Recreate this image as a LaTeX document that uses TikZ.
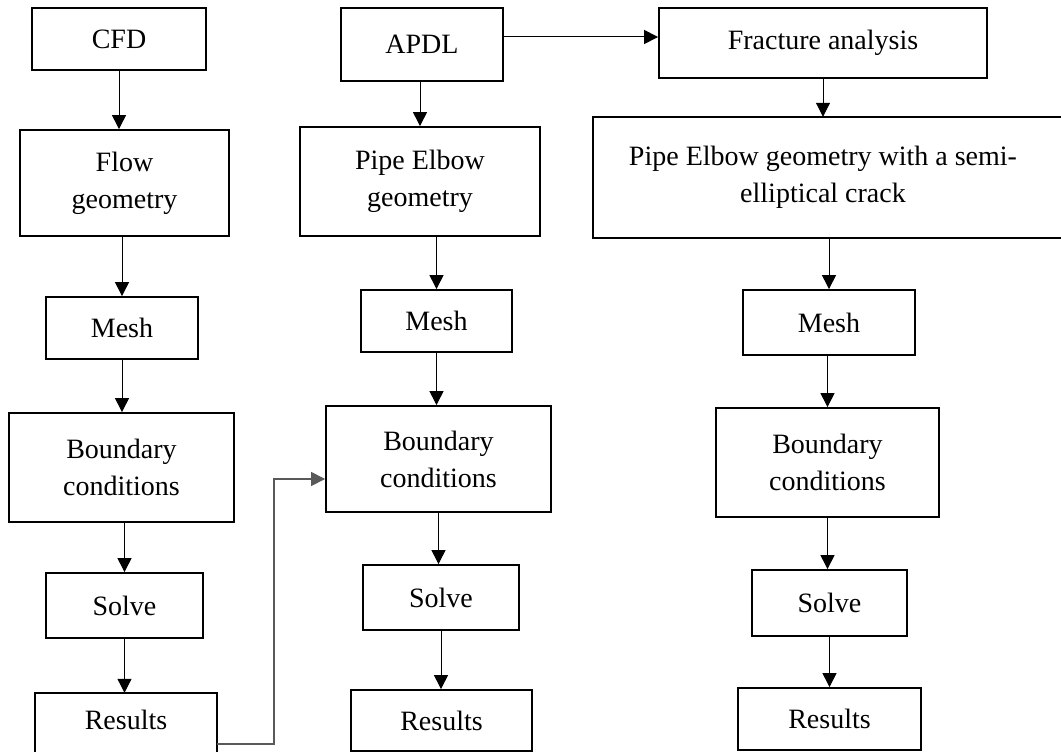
\documentclass[tikz,border=0pt]{standalone}
\usepackage{fontspec}
\setmainfont{Liberation Serif}
\usetikzlibrary{arrows.meta}
\begin{document}
\begin{tikzpicture}[x=1pt,y=-1pt,
  boxline/.style={draw=black, line width=1.8pt},
  box/.style={boxline, rectangle, inner sep=0pt, align=center,
    font=\fontsize{28}{37}\selectfont},
  openbox/.style={rectangle, inner sep=0pt, align=center,
    font=\fontsize{28}{37}\selectfont},
  flow/.style={line width=1pt, draw=black, -{Triangle[length=14pt,width=14pt]}},
  link/.style={line width=1.2pt, draw=black!65, -{Triangle[length=14pt,width=14pt]}}]
\useasboundingbox (0,0) rectangle (1061,752);
\clip (0,0) rectangle (1061,752);
\fill[white] (0,0) rectangle (1061,752);
% column 1
\node[box, minimum width=174pt, minimum height=62pt] (cfd) at (119,39) {CFD};
\node[box, minimum width=209pt, minimum height=106pt] (flowg) at (124.5,183) {Flow\\geometry};
\node[box, minimum width=152pt, minimum height=62pt] (mesh1) at (122,328) {Mesh};
\node[box, minimum width=225pt, minimum height=109pt] (bc1) at (121.5,467.5) {Boundary\\conditions};
\node[box, minimum width=157pt, minimum height=65pt] (solve1) at (124.5,605.5) {Solve};
\node[openbox, minimum width=182pt, minimum height=54pt] (res1) at (126,720) {Results};
\draw[boxline] ([yshift=-40pt]res1.south west) -- (res1.north west) -- (res1.north east) -- ([yshift=-40pt]res1.south east);
% column 2
\node[box, minimum width=162pt, minimum height=73pt] (apdl) at (422,44.5) {APDL};
\node[box, minimum width=240pt, minimum height=109pt] (peg) at (420,181.5) {Pipe Elbow\\geometry};
\node[box, minimum width=151pt, minimum height=62pt] (mesh2) at (436.5,321) {Mesh};
\node[box, minimum width=225pt, minimum height=106pt] (bc2) at (438.5,459) {Boundary\\conditions};
\node[box, minimum width=156pt, minimum height=65pt] (solve2) at (441,597.5) {Solve};
\node[box, minimum width=181pt, minimum height=61pt] (res2) at (441.5,720.5) {Results};
% column 3
\node[box, minimum width=328pt, minimum height=70pt] (frac) at (823,43) {Fracture analysis};
\node[openbox, minimum width=460pt, minimum height=121pt] (crack) at (823,177.5) {Pipe Elbow geometry with a semi-\\elliptical crack};
\draw[boxline] ([xshift=40pt]crack.north east) -- (crack.north west) -- (crack.south west) -- ([xshift=40pt]crack.south east);
\node[box, minimum width=172pt, minimum height=65pt] (mesh3) at (829,322.5) {Mesh};
\node[box, minimum width=223pt, minimum height=109pt] (bc3) at (827.5,462.5) {Boundary\\conditions};
\node[box, minimum width=155pt, minimum height=66pt] (solve3) at (829.5,603) {Solve};
\node[box, minimum width=183pt, minimum height=62pt] (res3) at (829.5,719) {Results};
% arrows column 1
\draw[flow] (cfd.south) -- (cfd.south |- flowg.north);
\draw[flow] (mesh1.north |- flowg.south) -- (mesh1.north);
\draw[flow] (mesh1.south) -- (mesh1.south |- bc1.north);
\draw[flow] (solve1.north |- bc1.south) -- (solve1.north);
\draw[flow] (solve1.south) -- (solve1.south |- res1.north);
% arrows column 2
\draw[flow] (peg.north |- apdl.south) -- (peg.north);
\draw[flow] (mesh2.north |- peg.south) -- (mesh2.north);
\draw[flow] (mesh2.south) -- (mesh2.south |- bc2.north);
\draw[flow] (bc2.south) -- (bc2.south |- solve2.north);
\draw[flow] (solve2.south) -- (solve2.south |- res2.north);
% arrows column 3
\coordinate (ha) at (580,37);
\draw[flow] (apdl.east |- ha) -- (frac.west |- ha);
\draw[flow] (frac.south) -- (frac.south |- crack.north);
\draw[flow] (mesh3.north |- crack.south) -- (mesh3.north);
\draw[flow] (bc3.north |- mesh3.south) -- (bc3.north);
\draw[flow] (bc3.south) -- (bc3.south |- solve3.north);
\draw[flow] (solve3.south) -- (solve3.south |- res3.north);
% link results1 -> bc2
\coordinate (j1) at (274,744);
\coordinate (j2) at (274,479);
\draw[link] (res1.east |- j1) -- (j1) -- (j2) -- (bc2.west |- j2);
\end{tikzpicture}
\end{document}
